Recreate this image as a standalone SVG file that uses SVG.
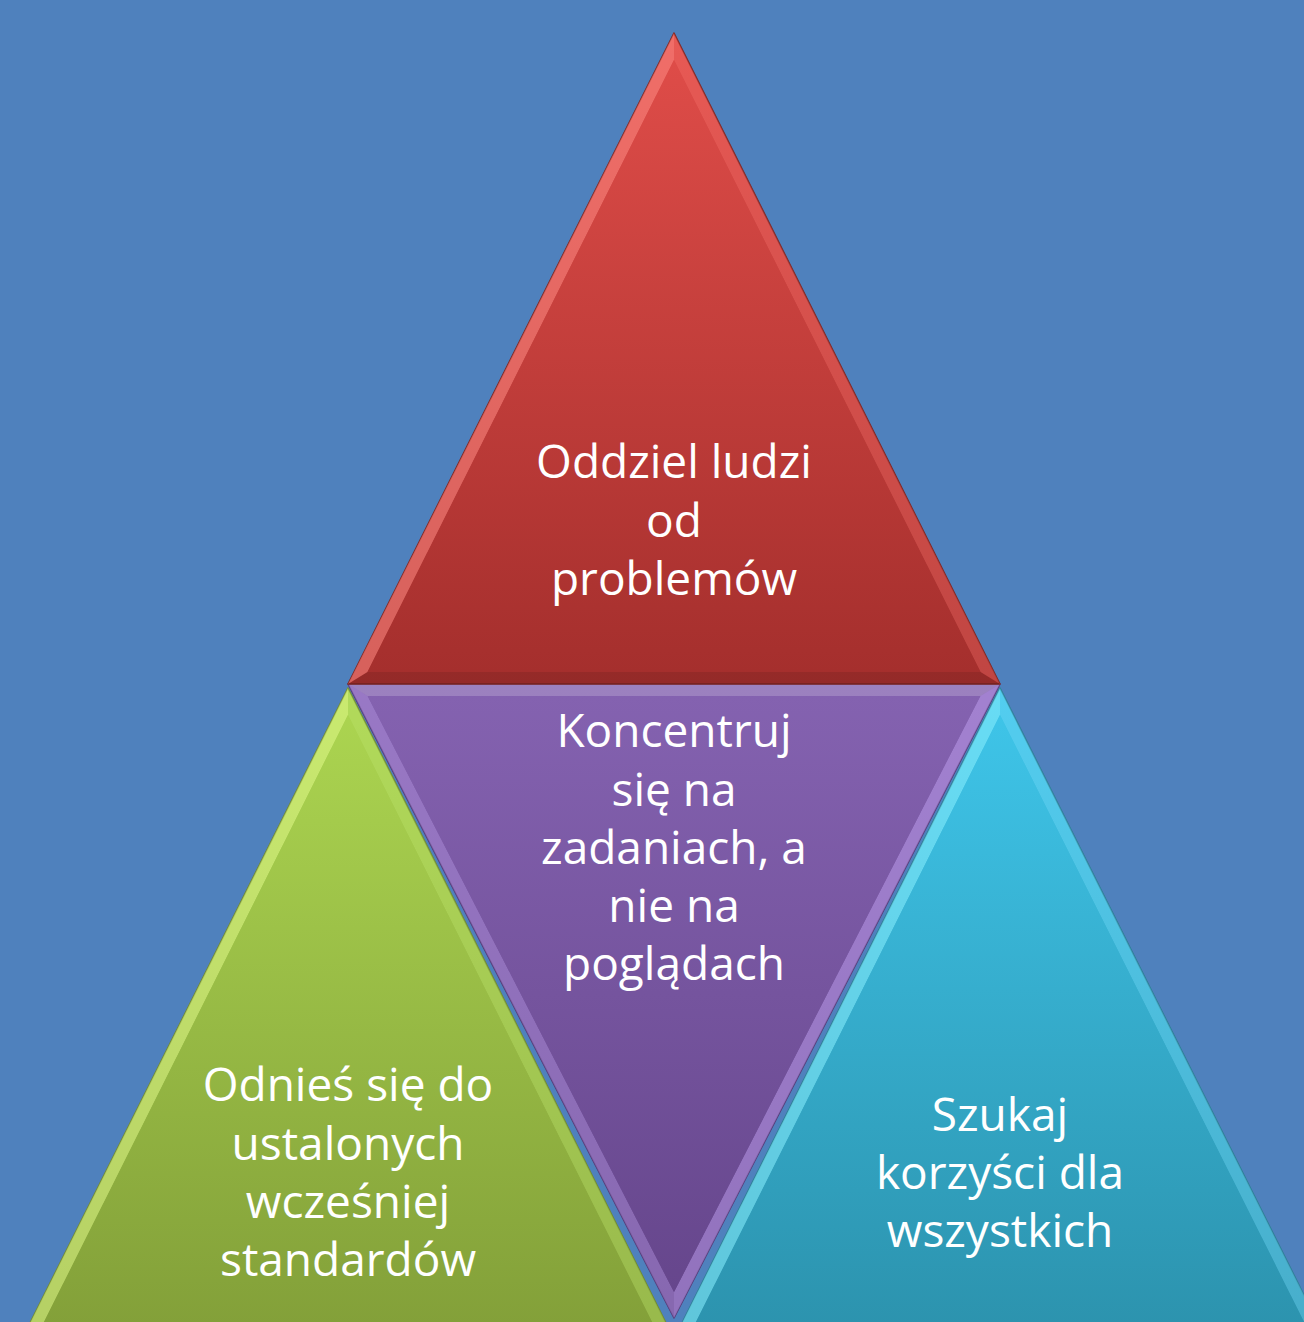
<svg xmlns="http://www.w3.org/2000/svg" width="1304" height="1322" viewBox="0 0 1304 1322">
  <defs>
    <linearGradient id="gRed" x1="0" y1="0" x2="0" y2="1">
      <stop offset="0" stop-color="#de4c48"/>
      <stop offset="1" stop-color="#a52f2d"/>
    </linearGradient>
    <linearGradient id="gPurple" x1="0" y1="0" x2="0" y2="1">
      <stop offset="0" stop-color="#8462b0"/>
      <stop offset="1" stop-color="#66468c"/>
    </linearGradient>
    <linearGradient id="gGreen" x1="0" y1="0" x2="0" y2="1">
      <stop offset="0" stop-color="#abd450"/>
      <stop offset="1" stop-color="#83a039"/>
    </linearGradient>
    <linearGradient id="gCyan" x1="0" y1="0" x2="0" y2="1">
      <stop offset="0" stop-color="#3ec4e8"/>
      <stop offset="1" stop-color="#2c93ae"/>
    </linearGradient>
  </defs>
  <style>
    .edge { stroke-width: 1.5; stroke-linejoin: round; }
    .hl { fill: #ffffff; opacity: 0.2; }
    .sh { fill: #000000; opacity: 0.1; }
    .lbl { font-family: "Open Sans", "Noto Sans", "Liberation Sans", sans-serif; font-size: 46px; fill: #ffffff; text-anchor: middle; }
  </style>
  <rect x="0" y="0" width="1304" height="1322" fill="#4f81bd"/>

  <g id="node-green">
    <polygon points="348,688 22,1339 674,1339" fill="url(#gGreen)" stroke="#6f8a30" class="edge"/>
    <polygon points="348,688 22,1339 41.5,1327 348,715" fill="#e8ff90" opacity="0.5"/>
    <polygon points="348,688 674,1339 654.5,1327 348,715" fill="#c0e870" opacity="0.35"/>
    <polygon points="348,715 41.5,1327 654.5,1327" fill="url(#gGreen)"/>
    <text class="lbl"><tspan x="348" y="1101">Odnieś się do</tspan><tspan x="348" y="1160">ustalonych</tspan><tspan x="348" y="1218">wcześniej</tspan><tspan x="348" y="1276">standardów</tspan></text>
  </g>

  <g id="node-cyan">
    <polygon points="1000,688 674,1339 1326,1339" fill="url(#gCyan)" stroke="#2a7f96" class="edge"/>
    <polygon points="1000,688 674,1339 693.5,1327 1000,715" fill="#8af0ff" opacity="0.55"/>
    <polygon points="1000,688 1326,1339 1306.5,1327 1000,715" fill="#7ae0ff" opacity="0.35"/>
    <polygon points="1000,715 693.5,1327 1306.5,1327" fill="url(#gCyan)"/>
    <text class="lbl"><tspan x="1000" y="1131">Szukaj</tspan><tspan x="1000" y="1189">korzyści dla</tspan><tspan x="1000" y="1247">wszystkich</tspan></text>
  </g>

  <g id="node-purple">
    <polygon points="348,684 1000,684 674,1318" fill="url(#gPurple)" stroke="#553a78" class="edge"/>
    <polygon points="348,684 674,1318 674,1292 367.6,696" fill="#b89ae6" opacity="0.4"/>
    <polygon points="1000,684 674,1318 674,1292 980.4,696" fill="#c8a8f8" opacity="0.45"/>
    <polygon points="348,684 1000,684 980.4,696 367.6,696" class="hl"/>
    <polygon points="367.6,696 980.4,696 674,1292" fill="url(#gPurple)"/>
    <text class="lbl"><tspan x="674" y="747">Koncentruj</tspan><tspan x="674" y="806">się na</tspan><tspan x="674" y="864">zadaniach, a</tspan><tspan x="674" y="922">nie na</tspan><tspan x="674" y="980">poglądach</tspan></text>
  </g>

  <g id="node-red">
    <polygon points="674,33 348,684 1000,684" fill="url(#gRed)" stroke="#7e2422" class="edge"/>
    <polygon points="674,33 348,684 367.5,672 674,60" fill="#ff8a84" opacity="0.55"/>
    <polygon points="674,33 1000,684 980.5,672 674,60" fill="#ff7a74" opacity="0.3"/>
    <polygon points="348,684 1000,684 980.5,672 367.5,672" class="sh"/>
    <polygon points="674,60 367.5,672 980.5,672" fill="url(#gRed)"/>
    <text class="lbl"><tspan x="674" y="478">Oddziel ludzi</tspan><tspan x="674" y="537">od</tspan><tspan x="674" y="595">problemów</tspan></text>
  </g>

  <g id="connectors"/>
</svg>
